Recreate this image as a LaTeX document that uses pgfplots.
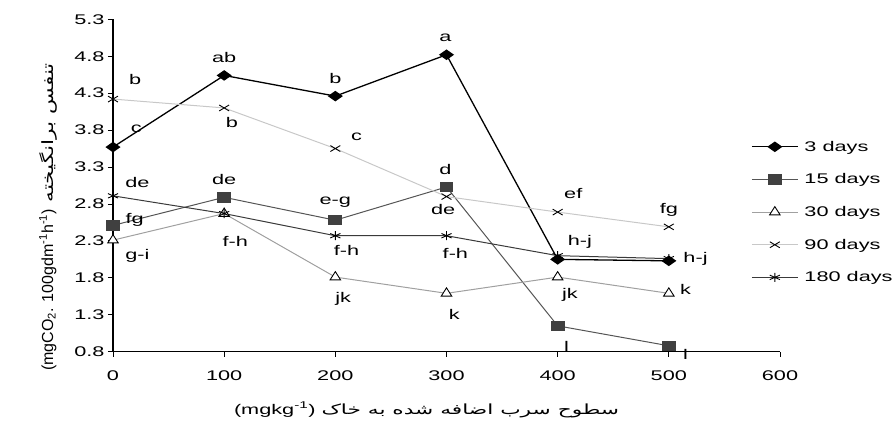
\documentclass[border=0pt]{standalone}
\usepackage{fontspec}
\setmainfont{Liberation Sans}[FakeStretch=1.55]
\newfontfamily\plainfont{Liberation Sans}
\newfontfamily\arabicfont[Script=Arabic,FakeStretch=1.55]{DejaVu Sans}
\newfontfamily\arabicplain[Script=Arabic,FakeStretch=1.4]{DejaVu Sans}
\usepackage{graphicx}
\usepackage{pgfplots}
\pgfplotsset{compat=1.18}
\TeXXeTstate=1
\newcommand\f{\fontsize{14pt}{16pt}\selectfont}
\definecolor{c15}{HTML}{404040}
\definecolor{l15}{HTML}{555555}
\definecolor{l30}{HTML}{A0A0A0}
\definecolor{l90}{HTML}{C8C8C8}
\definecolor{l180}{HTML}{3A3A3A}
\begin{document}
\begin{tikzpicture}
\begin{axis}[
 scale only axis, width=667pt, height=332.4pt,
 xmin=0, xmax=600, ymin=0.8, ymax=5.3,
 axis x line=bottom, axis y line=left,
 axis line style={-, line width=1.2pt},
 xtick={0,100,200,300,400,500,600},
 ytick={0.8,1.3,1.8,2.3,2.8,3.3,3.8,4.3,4.8,5.3},
 tick align=outside, major tick length=5pt,
 tick style={black, line width=0.8pt},
 /pgf/number format/assume math mode=true,
 yticklabel style={/pgf/number format/.cd,fixed,fixed zerofill,precision=1},
 ticklabel style={font=\f},
 xticklabel style={yshift=-10pt},
 clip=false,
 legend cell align=left,
 legend style={at={(rel axis cs:0.952,0.42)}, anchor=west, draw=none, fill=none, font=\f, row sep=17pt,
   /tikz/every odd column/.append style={column sep=4pt}},
 legend image code/.code={\draw[mark repeat=2,mark phase=2] plot coordinates {(0pt,0pt)(23pt,0pt)(46pt,0pt)};},
 xlabel={\fontsize{14pt}{16pt}\selectfont\beginR{\arabicfont سطوح سرب اضافه شده به خاک} \beginL(mgkg\textsuperscript{-1})\endL\endR},
 xlabel style={at={(rel axis cs:0.47,-0.175)}, anchor=center},
 ylabel={\fontsize{16pt}{18pt}\selectfont\beginR{\arabicplain\fontsize{15.5pt}{17pt}\selectfont تنفس برانگیخته} \beginL{\plainfont(mgCO\textsubscript{2}. 100gdm\textsuperscript{-1}h\textsuperscript{-1})}\endL\endR},
 ylabel style={at={(rel axis cs:-0.0975,0.405)}, anchor=center},
]
\coordinate (O) at (rel axis cs:0,0);
\coordinate (T) at (rel axis cs:1,1);
\addplot[black, line width=1.3pt, mark=diamond*, mark size=4.5pt, mark options={solid, fill=black, xscale=1.9}]
 coordinates {(0,3.57)(100,4.54)(200,4.26)(300,4.82)(400,2.05)(500,2.03)};
\addlegendentry{3 days}
\addplot[l15, line width=1pt, mark=square*, mark size=4.7pt, mark options={solid, fill=c15, draw=c15, xscale=1.35}]
 coordinates {(0,2.51)(100,2.89)(200,2.58)(300,3.03)(400,1.15)(500,0.88)};
\addlegendentry{15 days}
\addplot[l30, line width=1pt, mark=triangle*, mark size=5.5pt, mark options={solid, fill=white, draw=black, line width=0.9pt, xscale=1.1}]
 coordinates {(0,2.31)(100,2.67)(200,1.81)(300,1.59)(400,1.81)(500,1.59)};
\addlegendentry{30 days}
\addplot[l90, line width=1pt, mark=x, mark size=4.2pt, mark options={solid, draw=black, line width=0.9pt, xscale=1.67}]
 coordinates {(0,4.22)(100,4.10)(200,3.55)(300,2.90)(400,2.69)(500,2.49)};
\addlegendentry{90 days}
\addplot[l180, line width=1pt, mark=asterisk, mark size=4.5pt, mark options={solid, draw=black, line width=0.9pt, xscale=1.3}]
 coordinates {(0,2.91)(100,2.67)(200,2.37)(300,2.37)(400,2.10)(500,2.06)};
\addlegendentry{180 days}
\begin{scope}[every node/.style={font=\f, inner sep=0pt}]
\node at (axis cs:299,5.05) {a};
\node at (axis cs:100,4.78) {ab};
\node at (axis cs:200,4.50) {b};
\node at (axis cs:20,4.48) {b};
\node at (axis cs:21,3.82) {c};
\node at (axis cs:107,3.90) {b};
\node at (axis cs:219,3.71) {c};
\node at (axis cs:22,3.09) {de};
\node at (axis cs:100,3.13) {de};
\node at (axis cs:299,3.27) {d};
\node at (axis cs:414,2.94) {ef};
\node at (axis cs:19.5,2.59) {fg};
\node at (axis cs:22,2.10) {g-i};
\node at (axis cs:110,2.29) {f-h};
\node at (axis cs:200,2.82) {e-g};
\node at (axis cs:210,2.17) {f-h};
\node at (axis cs:207,1.52) {jk};
\node at (axis cs:297,2.73) {de};
\node at (axis cs:308,2.13) {f-h};
\node at (axis cs:307,1.30) {k};
\node at (axis cs:500,2.72) {fg};
\node at (axis cs:420,2.29) {h-j};
\node at (axis cs:524,2.05) {h-j};
\node at (axis cs:411,1.57) {jk};
\node at (axis cs:515,1.64) {k};
\node at (axis cs:408,0.87) {l};
\node at (axis cs:515,0.76) {l};
\end{scope}
\end{axis}
\pgfresetboundingbox
\path ([shift={(-113pt,-78.3pt)}]O) rectangle ([shift={(113pt,19.3pt)}]T);
\end{tikzpicture}
\end{document}
